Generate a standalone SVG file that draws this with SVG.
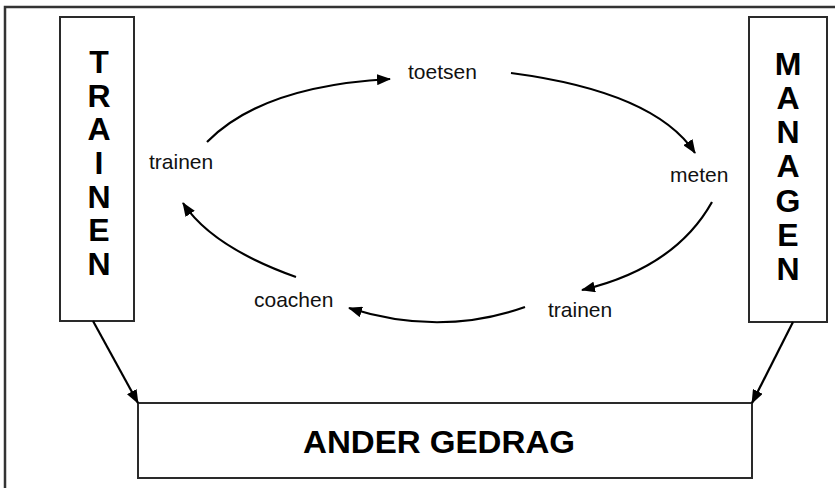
<svg xmlns="http://www.w3.org/2000/svg" width="835" height="488" viewBox="0 0 835 488">
<style>
.frame{fill:none;stroke:#333;stroke-width:2.5}
.box{fill:#fff;stroke:#2a2a2a;stroke-width:2}
.big{font-family:"Liberation Sans",Arial,sans-serif;font-weight:bold;font-size:32px;fill:#000;text-anchor:middle}
.lbl{font-family:"Liberation Sans",Arial,sans-serif;font-size:21px;fill:#111}
.conn{fill:none;stroke:#000;stroke-width:2.2}
</style>
<defs>
<marker id="ah" viewBox="0 0 14 11" refX="13" refY="5.5" markerWidth="14" markerHeight="11" markerUnits="userSpaceOnUse" orient="auto">
<path d="M0,0 L14,5.5 L0,11 z" fill="#000"/>
</marker>
</defs>
<rect class="frame" x="5" y="7" width="840" height="495"/>
<g id="node-trainen-box">
<rect class="box" x="60" y="17" width="74" height="304"/>
<text class="big" x="99" y="73">T</text>
<text class="big" x="99" y="107">R</text>
<text class="big" x="99" y="140">A</text>
<text class="big" x="99" y="174">I</text>
<text class="big" x="99" y="208">N</text>
<text class="big" x="99" y="241">E</text>
<text class="big" x="99" y="275">N</text>
</g>
<g id="node-managen-box">
<rect class="box" x="749" y="17" width="78" height="305"/>
<text class="big" x="788" y="75">M</text>
<text class="big" x="788" y="109">A</text>
<text class="big" x="788" y="143">N</text>
<text class="big" x="788" y="177">A</text>
<text class="big" x="788" y="212">G</text>
<text class="big" x="788" y="246">E</text>
<text class="big" x="788" y="280">N</text>
</g>
<g id="node-ander-gedrag">
<rect class="box" x="138" y="403" width="614" height="75"/>
<text class="big" x="439" y="453" textLength="272" lengthAdjust="spacingAndGlyphs">ANDER GEDRAG</text>
</g>
<g id="node-toetsen"><text class="lbl" x="408" y="79">toetsen</text></g>
<g id="node-meten"><text class="lbl" x="670" y="182">meten</text></g>
<g id="node-trainen-right"><text class="lbl" x="548" y="317">trainen</text></g>
<g id="node-coachen"><text class="lbl" x="254" y="307">coachen</text></g>
<g id="node-trainen-left"><text class="lbl" x="149" y="169">trainen</text></g>
<g id="connectors">
<path class="conn" d="M207,142 Q262,86 390,79" marker-end="url(#ah)"/>
<path class="conn" d="M511,73 Q655,92 695,153" marker-end="url(#ah)"/>
<path class="conn" d="M712,202 Q675,268 582,290" marker-end="url(#ah)"/>
<path class="conn" d="M525,307 Q440,337 349,308" marker-end="url(#ah)"/>
<path class="conn" d="M296,277 Q212,247 183,203" marker-end="url(#ah)"/>
<path class="conn" d="M93,321 L138,403" marker-end="url(#ah)"/>
<path class="conn" d="M793,322 L752,403" marker-end="url(#ah)"/>
</g>
</svg>
